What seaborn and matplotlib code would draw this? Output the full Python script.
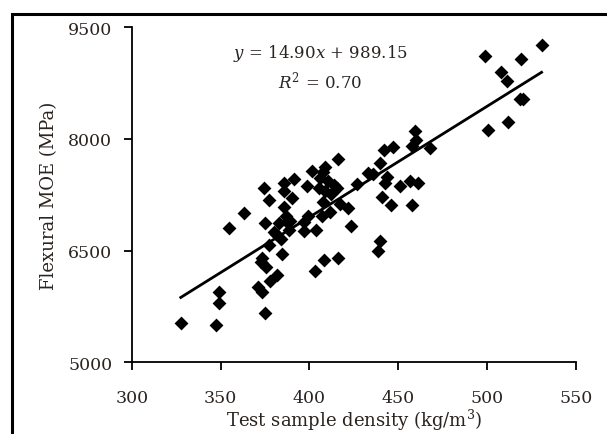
import seaborn as sns
import matplotlib.pyplot as plt
import pandas as pd
from matplotlib.patches import Rectangle

# densidade (kg/m3) e MOE (MPa)
densidade = [327.6, 347.5, 349.2, 349.2, 354.6, 363.3, 374.5, 377.1, 374.9, 375.1,
             371.2, 373.4, 372.8, 373.4, 375.6, 377.7, 381.6, 377.1, 381.4, 384.2,
             384.8, 385.9, 385.9, 385.7, 387.4, 388.5, 390.2, 391.1, 383.1, 387.0,
             397.1, 397.1, 398.7, 399.3, 401.5, 403.2, 403.6, 405.4, 406.9, 407.9,
             407.9, 409.0, 408.4, 411.8, 412.3, 414.0, 415.5, 416.1, 416.1, 417.2,
             421.5, 423.1, 426.9, 432.8, 436.0, 438.8, 439.5, 439.5, 441.0, 442.5,
             443.6, 441.9, 445.7, 446.8, 451.1, 456.5, 457.6, 457.6, 459.3, 459.8,
             460.9, 468.0, 498.6, 500.3, 507.9, 511.1, 511.6, 519.1, 518.7, 520.2,
             530.6, 406.0, 410.5, 389.0, 380.0, 408.5]
moe = [5527, 5504, 5940, 5802, 6801, 7003, 7337, 7177, 6865, 5665,
       6017, 5940, 6343, 6398, 6274, 6091, 6169, 6581, 6719, 6650,
       6453, 7406, 7301, 7085, 6879, 6774, 7200, 7466, 6865, 6971,
       6879, 6764, 7369, 6971, 7566, 6228, 6774, 7337, 6971, 7154,
       7557, 7626, 6375, 7017, 7255, 7383, 7337, 7727, 6398, 7131,
       7071, 6824, 7397, 7544, 7530, 6489, 6627, 7681, 7223, 7406,
       7484, 7851, 7108, 7896, 7369, 7429, 7108, 7910, 8107, 7979,
       7406, 7878, 9111, 8116, 8896, 8781, 8231, 9070, 8538, 8538,
       9262, 7470, 7440, 6900, 6750, 7300]

# reta de regressão publicada
inclinacao = 14.90
intercepto = 989.15

df = pd.DataFrame({'densidade': densidade, 'moe': moe})
x_fit = [min(densidade), max(densidade)]
reta = pd.DataFrame({'densidade': x_fit,
                     'moe': [inclinacao * x + intercepto for x in x_fit]})

plt.rcParams['font.family'] = 'DejaVu Serif'
plt.rcParams['mathtext.fontset'] = 'dejavuserif'
cor_texto = '#2a2420'

fig = plt.figure(figsize=(6.07, 4.35), dpi=100)
ax = fig.add_axes([0.217, 0.165, 0.732, 0.770])

sns.scatterplot(data=df, x='densidade', y='moe', marker='D', s=50,
                color='black', edgecolor='black', linewidth=0, ax=ax)
sns.lineplot(data=reta, x='densidade', y='moe', color='black', linewidth=2.0, ax=ax)

ax.set_xlim(300, 550)
ax.set_ylim(5000, 9500)
ax.set_xticks([300, 350, 400, 450, 500, 550])
ax.set_yticks([5000, 6500, 8000, 9500])
ax.spines['top'].set_visible(False)
ax.spines['right'].set_visible(False)
for s in ['left', 'bottom']:
    ax.spines[s].set_linewidth(1.3)
ax.tick_params(direction='out', length=6, width=1.3, labelsize=12.5, colors='black',
               labelcolor=cor_texto)
ax.tick_params(axis='x', pad=13)
ax.tick_params(axis='y', pad=8)

ax.set_xlabel('Test sample density (kg/m$^3$)', fontsize=13, color=cor_texto, labelpad=1)
ax.set_ylabel('Flexural MOE (MPa)', fontsize=13, color=cor_texto, labelpad=7)

ax.text(0.424, 0.926, '$y$ = 14.90$x$ + 989.15', transform=ax.transAxes,
        ha='center', va='center', fontsize=12, color=cor_texto)
ax.text(0.424, 0.84, '$R^2$ = 0.70', transform=ax.transAxes,
        ha='center', va='center', fontsize=12, color=cor_texto)

# moldura externa
fig.patches.append(Rectangle((12 / 607, -0.1), 1.2, 1 - 15 / 435 + 0.1,
                             transform=fig.transFigure, fill=False,
                             edgecolor='black', linewidth=2.2))

plt.savefig('out.png', dpi=100)
